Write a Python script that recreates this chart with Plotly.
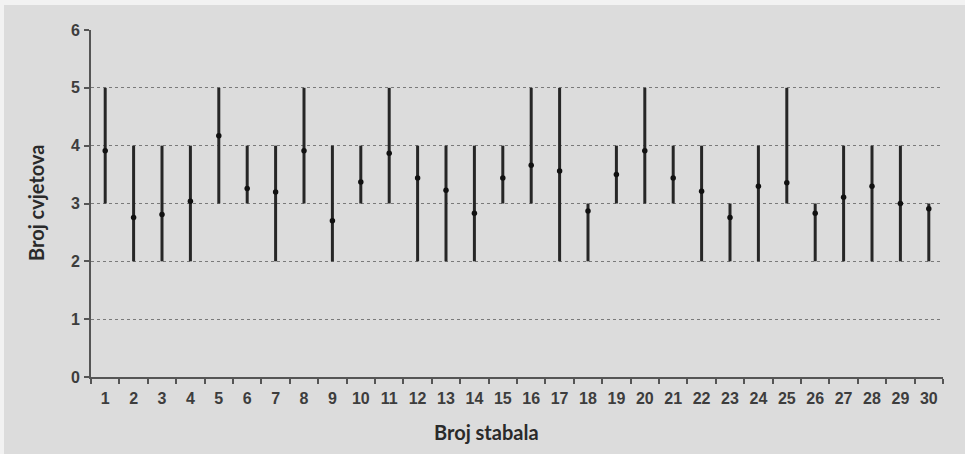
import plotly.graph_objects as go

# Flower counts per tree: mean, minimum and maximum
trees = [str(i) for i in range(1, 31)]
mean_flowers = [3.91, 2.76, 2.81, 3.04, 4.17, 3.26, 3.20, 3.91, 2.70, 3.37,
                3.87, 3.44, 3.23, 2.83, 3.44, 3.66, 3.56, 2.87, 3.50, 3.91,
                3.44, 3.21, 2.76, 3.30, 3.36, 2.83, 3.11, 3.30, 3.00, 2.91]
min_flowers = [3, 2, 2, 2, 3, 3, 2, 3, 2, 3,
               3, 2, 2, 2, 3, 3, 2, 2, 3, 3,
               3, 2, 2, 2, 3, 2, 2, 2, 2, 2]
max_flowers = [5, 4, 4, 4, 5, 4, 4, 5, 4, 4,
               5, 4, 4, 4, 4, 5, 5, 3, 4, 5,
               4, 4, 3, 4, 5, 3, 4, 4, 4, 3]
y_ticks = [0, 1, 2, 3, 4, 5, 6]

W, H = 965, 454
ML, MR, MT, MB = 91, 22, 30, 77
PW, PH = W - ML - MR, H - MT - MB

BG = "#dcdcdc"
LINE = "#262626"
TICK_FONT = dict(size=16, family="'Liberation Sans', Arial, sans-serif",
                 weight="bold", color="#3d3d3d")
TITLE_FONT = dict(size=20, family="Lato, 'Open Sans', sans-serif",
                  weight="bold", color="#2a2a2a")

fig = go.Figure()
fig.add_trace(go.Scatter(
    x=trees,
    y=mean_flowers,
    mode="markers",
    marker=dict(color="#111111", size=5.5),
    error_y=dict(
        type="data",
        symmetric=False,
        array=[hi - m for hi, m in zip(max_flowers, mean_flowers)],
        arrayminus=[m - lo for m, lo in zip(mean_flowers, min_flowers)],
        width=0,
        thickness=3,
        color=LINE,
    ),
    showlegend=False,
    hoverinfo="skip",
))

# light frame strips along the top and left edges
px_x = lambda p: (p - ML) / PW
px_y = lambda p: 1 - (p - MT) / PH
shapes = [
    dict(type="rect", xref="paper", yref="paper", layer="below",
         x0=px_x(0), x1=px_x(W), y0=px_y(5), y1=px_y(0),
         fillcolor="#f2f2f2", line=dict(width=0)),
    dict(type="rect", xref="paper", yref="paper", layer="below",
         x0=px_x(0), x1=px_x(4), y0=px_y(H), y1=px_y(0),
         fillcolor="#f2f2f2", line=dict(width=0)),
]

fig.update_layout(
    width=W, height=H,
    margin=dict(l=ML, r=MR, t=MT, b=MB),
    paper_bgcolor=BG,
    plot_bgcolor=BG,
    shapes=shapes,
    xaxis=dict(
        type="category",
        tickson="boundaries",
        ticks="outside",
        ticklen=5,
        tickwidth=1.5,
        tickcolor="#555555",
        ticklabelstandoff=6,
        showline=True,
        linecolor="#555555",
        linewidth=2,
        showgrid=False,
        tickfont=TICK_FONT,
        range=[-0.5, 29.5],
        fixedrange=True,
    ),
    yaxis=dict(
        range=[0, 6],
        tickvals=y_ticks,
        ticks="outside",
        ticklen=5,
        tickwidth=1.5,
        tickcolor="#555555",
        ticklabelstandoff=1,
        showline=True,
        linecolor="#555555",
        linewidth=2,
        showgrid=True,
        gridcolor="#7a7a7a",
        gridwidth=1.2,
        griddash="dot",
        zeroline=False,
        tickfont=TICK_FONT,
        fixedrange=True,
    ),
    annotations=[
        dict(text="Broj stabala", xref="paper", yref="paper",
             x=px_x(486), y=px_y(432), xanchor="center", yanchor="middle",
             showarrow=False, font=TITLE_FONT),
        dict(text="Broj cvjetova", xref="paper", yref="paper",
             x=px_x(36), y=px_y(203), xanchor="center", yanchor="middle",
             showarrow=False, textangle=-90, font=TITLE_FONT),
    ],
)

fig.write_html("out.html")
